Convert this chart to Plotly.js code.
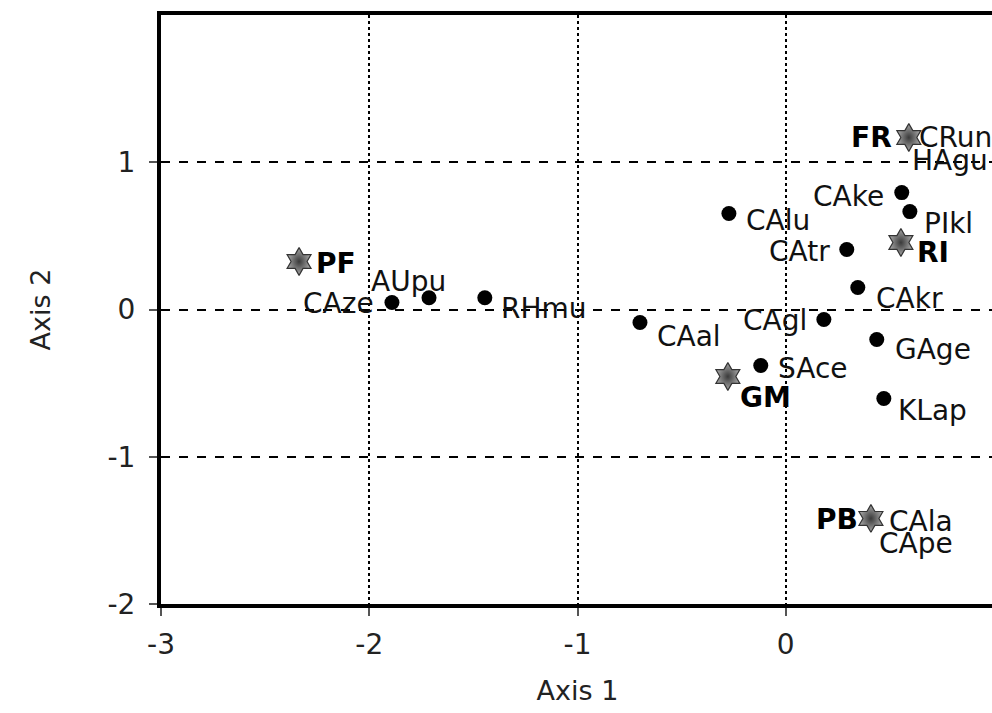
<!DOCTYPE html>
<html>
<head>
<meta charset="utf-8">
<script src="https://cdn.plot.ly/plotly-3.0.1.min.js"></script>
<style>html,body{margin:0;padding:0;overflow:hidden;background:#fff;}#chart{width:994px;height:713px;}</style>
</head>
<body>
<div id="chart"></div>
<script>
// Species points (black dots)
const speciesNames = ["CAze","AUpu","RHmu","CAal","CAlu","SAce","CAgl","CAtr","CAkr","CAke","PIkl","GAge","KLap","CRun","HAgu","CAla","CApe"];
const speciesX = [-1.891,-1.713,-1.445,-0.700,-0.273,-0.120,0.183,0.293,0.346,0.557,0.596,0.437,0.471,0.591,0.591,0.409,0.409];
const speciesY = [0.048,0.080,0.080,-0.088,0.652,-0.380,-0.068,0.407,0.149,0.794,0.665,-0.204,-0.604,1.168,1.168,-1.419,-1.419];
// Site points (stars)
const siteNames = ["FR","RI","PF","GM","PB"];
const siteX = [0.591,0.553,-2.337,-0.278,0.409];
const siteY = [1.168,0.455,0.326,-0.455,-1.419];
// Axis ticks
const xTicks = [-3,-2,-1,0];
const yTicks = [-2,-1,0,1];

// label placement (pixel offsets, style only)
const spLabelDx = [-53,-21,59,49,49,52,-49,-47,52,-53,39,56,49,8,1,16,6];
const spLabelDy = [-1,16,-11,-14,-7,-3,-1,-2,-11,-4,-12,-10,-12,0,-23,-3,-25];
const spAnchor = ["center","center","center","center","center","center","center","center","center","center","center","center","center","left","left","left","left"];
const siteLabelDx = [-37,32,37,38,-34];
const siteLabelDy = [0,-10,-2,-21,-1];

const FONT = "'DejaVu Sans', 'Noto Sans', sans-serif";

const traces = [
  {type:"scatter", mode:"markers", x:speciesX, y:speciesY, text:speciesNames, hoverinfo:"text",
   marker:{color:"#000", size:15, symbol:"circle"}},
  {type:"scatter", mode:"markers", x:siteX, y:siteY, text:siteNames, hoverinfo:"text",
   marker:{symbol:"hexagram", size:21, color:"#a8a8a8", gradient:{type:"radial", color:"#3a3a3a"}, line:{color:"#333", width:1.2}}}
];

const annotations = [];
speciesNames.forEach((n,i)=>{
  annotations.push({x:speciesX[i], y:speciesY[i], text:n, showarrow:false,
    xanchor:spAnchor[i], yanchor:"middle", xshift:spLabelDx[i], yshift:spLabelDy[i],
    font:{family:FONT, size:28, color:"#111"}});
});
siteNames.forEach((n,i)=>{
  annotations.push({x:siteX[i], y:siteY[i], text:"<b>"+n+"</b>", showarrow:false,
    xanchor:"center", yanchor:"middle", xshift:siteLabelDx[i], yshift:siteLabelDy[i],
    font:{family:FONT, size:28, color:"#000"}});
});

const layout = {
  width:994, height:713,
  margin:{l:161, r:0, t:15, b:109},
  paper_bgcolor:"#fff", plot_bgcolor:"#fff",
  showlegend:false,
  font:{family:FONT, color:"#222"},
  xaxis:{range:[-3,1], tickvals:xTicks, ticktext:xTicks.map(String), showline:true, linewidth:4, linecolor:"#000",
    mirror:true, ticks:"outside", ticklen:8, tickwidth:2, tickcolor:"#555", ticklabelstandoff:4,
    showgrid:true, gridcolor:"#000", gridwidth:2, griddash:"dot", zeroline:false,
    tickfont:{family:FONT, size:28, color:"#222"},
    title:{text:"Axis 1", font:{family:FONT, size:27, color:"#222"}, standoff:23}},
  yaxis:{range:[-2,2], tickvals:yTicks, ticktext:yTicks.map(String), showline:true, linewidth:4, linecolor:"#000",
    mirror:false, ticks:"outside", ticklen:8, tickwidth:2, tickcolor:"#555", ticklabelstandoff:8,
    showgrid:true, gridcolor:"#000", gridwidth:2, griddash:"dash", zeroline:false,
    tickfont:{family:FONT, size:28, color:"#222"},
    title:{text:"Axis 2", font:{family:FONT, size:27, color:"#222"}, standoff:50}},
  annotations:annotations
};

Plotly.newPlot("chart", traces, layout, {displayModeBar:false, staticPlot:true});
</script>
</body>
</html>
